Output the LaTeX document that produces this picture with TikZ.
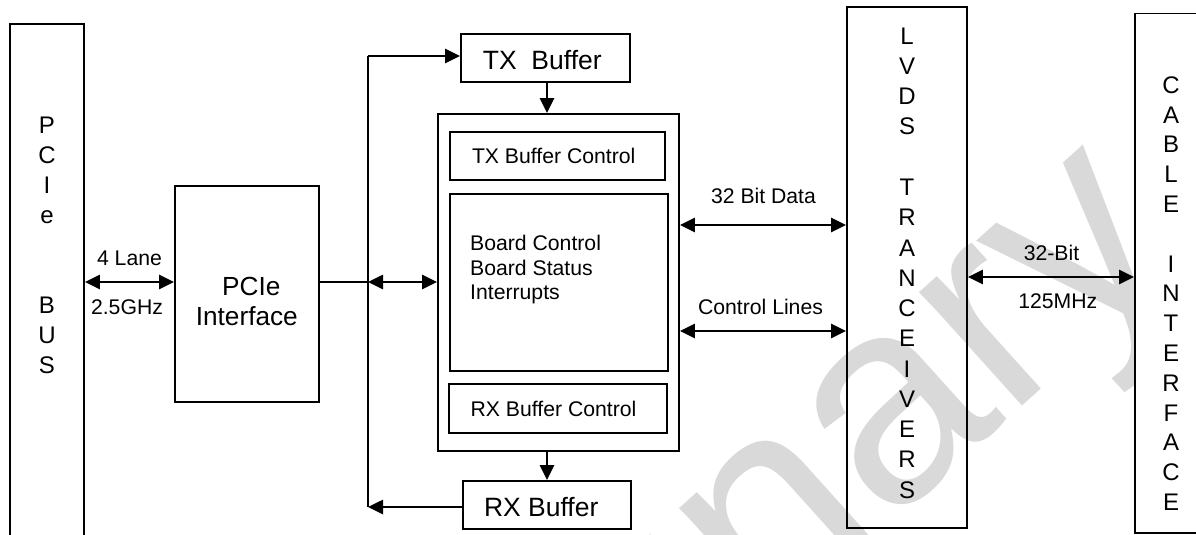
\documentclass[tikz,border=0pt]{standalone}
\usepackage{fontspec}
\setmainfont{Liberation Sans}
\usetikzlibrary{arrows.meta,calc}
\begin{document}
\begin{tikzpicture}[x=1pt,y=-1pt,
  >={Triangle[length=15pt,width=14pt]},
  box/.style={draw,line width=1.8pt,inner sep=0pt},
  lbl/.style={font=\fontsize{21.2}{24.3}\selectfont,inner sep=0pt,anchor=base},
  big/.style={font=\fontsize{26.5}{30}\selectfont,inner sep=0pt,anchor=base},
  vert/.style={align=center,inner sep=0pt},
  arr/.style={line width=2.6pt,->},
  dbl/.style={line width=2.6pt,<->},
  wmark/.style={rotate=42,anchor=base east,text=black!15,inner sep=0pt,font=\fontsize{290}{290}\selectfont}
]
\useasboundingbox (0,0) rectangle (1196,535);
\clip (0,0) rectangle (1196,535);
% watermark
\node[wmark] (wm) at (1187,258) {Preliminary};
% boxes
\node[box,minimum width=74pt,minimum height=521pt] (pcibus) at (47,284.5) {};
\node[box,minimum width=144pt,minimum height=216pt] (pciif) at (247,294) {};
\node[box,minimum width=169pt,minimum height=48pt] (txb) at (545.5,58) {};
\node[box,minimum width=241pt,minimum height=337pt] (main) at (558.5,282.5) {};
\node[box,minimum width=215pt,minimum height=48pt] (txc) at (557.5,156) {};
\node[box,minimum width=218pt,minimum height=177pt] (brd) at (559,282.5) {};
\node[box,minimum width=218pt,minimum height=49pt] (rxc) at (558,408.5) {};
\node[box,fill=white,minimum width=168pt,minimum height=48pt] (rxb) at (547,505) {};
\node[box,minimum width=120pt,minimum height=521pt] (lvds) at (907,267.5) {};
\node[box,fill=white,minimum width=80pt,minimum height=519.5pt] (cable) at (1175,273.3) {};
% vertical texts
\node[vert,font=\fontsize{24}{30}\selectfont] (busT) at (47,245.5) {P\\C\\I\\e\\[60pt]B\\U\\S};
\node[vert,font=\fontsize{24}{30.27}\selectfont] (lvdsT) at (907,263) {L\\V\\D\\S\\[30.27pt]T\\R\\A\\N\\C\\E\\I\\V\\E\\R\\S};
\node[vert,font=\fontsize{24}{29.8}\selectfont] (cableT) at (1171,293.5) {C\\A\\B\\L\\E\\[29.8pt]I\\N\\T\\E\\R\\F\\A\\C\\E};
% labels
\node[lbl] (l4) at (129.5,265) {4 Lane};
\node[lbl] (l25) at (127,314) {2.5GHz};
\node[big,font=\fontsize{26.2}{30}\selectfont] (pcieT) at (251.3,295) {PCIe};
\node[big,font=\fontsize{26.2}{30}\selectfont] (ifT) at (246.8,325) {Interface};
\node[big] (txT) at (542.3,70) {TX~~Buffer};
\node[lbl] (txcT) at (553.7,163.5) {TX Buffer Control};
\node[lbl,align=left,anchor=north west] (brdT) at (470,235.2) {Board Control\\Board Status\\Interrupts};
\node[lbl] (rxcT) at (553.5,416) {RX Buffer Control};
\node[big] (rxT) at (541.2,516.7) {RX Buffer};
\node[lbl] (d32) at (763.5,203.3) {32 Bit Data};
\node[lbl] (ctl) at (760.5,314) {Control Lines};
\node[lbl] (b32) at (1051.5,260) {32-Bit};
\node[lbl] (mhz) at (1057.8,308.3) {125MHz};
% connectors
\coordinate (bt) at (368,56);
\coordinate (bb) at (368,507);
\coordinate (mid) at (368,282);
\coordinate (yd) at (0,225);
\coordinate (yc) at (0,331);
\coordinate (y32) at (0,277);
\coordinate (colx) at (547,0);
\draw[dbl] (pcibus.east |- mid) -- (pciif.west |- mid);
\draw[line width=1.3pt] (pciif.east |- mid) -- (mid);
\draw[line width=2.2pt] (bt) -- (bb);
\draw[arr] (bt) -- (txb.west |- bt);
\draw[arr] (rxb.west |- bb) -- (bb);
\draw[dbl] (mid) -- (main.west |- mid);
\draw[arr] (txb.south -| colx) -- (main.north -| colx);
\draw[arr] (main.south -| colx) -- (rxb.north -| colx);
\draw[dbl] (main.east |- yd) -- (lvds.west |- yd);
\draw[dbl] (main.east |- yc) -- (lvds.west |- yc);
\draw[dbl] (lvds.east |- y32) -- (cable.west |- y32);
\end{tikzpicture}
\end{document}
